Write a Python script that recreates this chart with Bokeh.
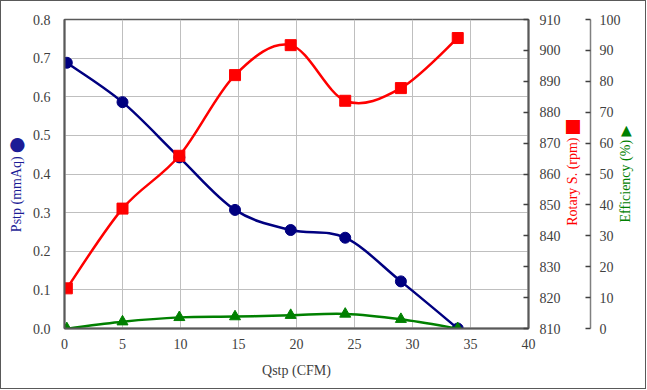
import numpy as np
from bokeh.plotting import figure
from bokeh.models import Range1d, LinearAxis, FixedTicker, NumeralTickFormatter
from bokeh.embed import file_html
from bokeh.resources import INLINE

# ---- data ----
qstp = [0.2, 5.0, 9.9, 14.7, 19.5, 24.2, 29.0, 33.9]          # Qstp (CFM)
pstp = [0.688, 0.586, 0.443, 0.307, 0.255, 0.235, 0.122, 0.0]  # Pstp (mmAq)
rpm = [823.0, 848.8, 865.9, 892.0, 901.7, 883.7, 887.8, 904.0]  # Rotary S. (rpm)
eff = [0.0, 2.2, 3.6, 3.85, 4.3, 4.7, 3.0, 0.0]                 # Efficiency (%)

x_ticks = [0, 5, 10, 15, 20, 25, 30, 35, 40]
p_ticks = [0.0, 0.1, 0.2, 0.3, 0.4, 0.5, 0.6, 0.7, 0.8]
rpm_ticks = [810, 820, 830, 840, 850, 860, 870, 880, 890, 900, 910]
eff_ticks = [0, 10, 20, 30, 40, 50, 60, 70, 80, 90, 100]

x_title = "Qstp (CFM)"
p_title = "Pstp (mmAq) \u2b24" + "\u00a0" * 6
rpm_title = "Rotary S. (rpm) \u2b1b\ufe0e"
eff_title = "Efficiency (%) \u25b6"

NAVY = "#000080"
RED = "#ff0000"
GREEN = "#008000"
GRAY = "#404040"
FONT = "Liberation Serif"
TITLE_FONT = "Liberation Serif, DejaVu Sans"


def smooth_segments(xs, ys):
    """Excel-like smoothed line: cubic Bezier per segment (Catmull-Rom, 1/6 tension)."""
    n = len(xs)
    out = dict(x0=[], y0=[], x1=[], y1=[], cx0=[], cy0=[], cx1=[], cy1=[])
    for i in range(n - 1):
        im = max(i - 1, 0)
        ip = min(i + 2, n - 1)
        out["x0"].append(xs[i]); out["y0"].append(ys[i])
        out["x1"].append(xs[i + 1]); out["y1"].append(ys[i + 1])
        out["cx0"].append(xs[i] + (xs[i + 1] - xs[im]) / 6.0)
        out["cy0"].append(ys[i] + (ys[i + 1] - ys[im]) / 6.0)
        out["cx1"].append(xs[i + 1] - (xs[ip] - xs[i]) / 6.0)
        out["cy1"].append(ys[i + 1] - (ys[ip] - ys[i]) / 6.0)
    return out


p = figure(frame_width=464, frame_height=309,
           min_border_left=63, min_border_right=117, min_border_top=18, min_border_bottom=60,
           x_range=Range1d(0, 40), y_range=Range1d(0, 0.8),
           output_backend="svg", toolbar_location=None)
p.extra_y_ranges = {"rpm": Range1d(810, 910), "eff": Range1d(0, 100)}
p.styles = {"border": "1px solid #595959"}

p.background_fill_color = "white"
p.border_fill_color = "white"
p.outline_line_color = "#595959"
p.outline_line_width = 1.5

# grids
p.xgrid.ticker = FixedTicker(ticks=x_ticks)
p.ygrid.ticker = FixedTicker(ticks=p_ticks)
p.xgrid.grid_line_color = "#bfbfbf"
p.ygrid.grid_line_color = "#bfbfbf"
p.xgrid.grid_line_width = 1
p.ygrid.grid_line_width = 1


def style_axis(ax):
    ax.axis_line_color = "#595959"
    ax.axis_line_width = 2
    ax.major_tick_line_color = "#404040"
    ax.major_tick_line_width = 1.5
    ax.minor_tick_line_color = None
    ax.major_label_text_font = FONT
    ax.major_label_text_font_size = "14px"
    ax.major_label_text_font_style = "normal"
    ax.major_label_text_color = GRAY
    ax.axis_label_text_font = FONT
    ax.axis_label_text_font_size = "14px"
    ax.axis_label_text_font_style = "normal"
    ax.axis_label_text_color = GRAY


def title_axis(tick, text, color, standoff):
    """A right-side axis that carries only a rotated title (bottom-to-top)."""
    ax = LinearAxis(ticker=FixedTicker(ticks=[tick]), major_label_overrides={tick: text})
    style_axis(ax)
    ax.axis_line_color = None
    ax.major_tick_line_color = None
    ax.major_tick_in = 0
    ax.major_tick_out = 0
    ax.major_label_standoff = standoff
    ax.major_label_text_color = color
    ax.major_label_text_font = TITLE_FONT
    ax.major_label_orientation = np.pi / 2
    return ax


# bottom axis
xa = p.xaxis[0]
xa.ticker = FixedTicker(ticks=x_ticks)
style_axis(xa)
xa.major_tick_in = 0
xa.major_tick_out = 0
xa.major_label_standoff = 10
xa.axis_label = x_title
xa.axis_label_standoff = 11

# left axis
ya = p.yaxis[0]
ya.ticker = FixedTicker(ticks=p_ticks)
ya.formatter = NumeralTickFormatter(format="0.0")
style_axis(ya)
ya.major_tick_in = 0
ya.major_tick_out = 0
ya.major_label_standoff = 14
ya.axis_label = p_title
ya.axis_label_text_color = "#1c1c96"
ya.axis_label_standoff = 6

# rpm axis (right, next to frame)
ra = LinearAxis(y_range_name="rpm", ticker=FixedTicker(ticks=rpm_ticks))
style_axis(ra)
ra.major_tick_in = 5
ra.major_tick_out = 0
ra.major_label_standoff = 11
p.add_layout(ra, "right")

p.add_layout(title_axis(0.266, rpm_title, RED, 9), "right")

# efficiency axis (outer right)
ea = LinearAxis(y_range_name="eff", ticker=FixedTicker(ticks=eff_ticks))
style_axis(ea)
ea.axis_line_color = "#808080"
ea.axis_line_width = 1.5
ea.major_tick_in = 5
ea.major_tick_out = 0
ea.major_label_standoff = 9
p.add_layout(ea, "right")

p.add_layout(title_axis(0.2745, eff_title, GREEN, 2), "right")

# series: Pstp
s = smooth_segments(qstp, pstp)
p.bezier(x0=s["x0"], y0=s["y0"], x1=s["x1"], y1=s["y1"], cx0=s["cx0"], cy0=s["cy0"],
         cx1=s["cx1"], cy1=s["cy1"], line_color=NAVY, line_width=2.5)
p.scatter(qstp, pstp, marker="circle", size=11, fill_color=NAVY, line_color=NAVY)

# series: rotary speed
s = smooth_segments(qstp, rpm)
p.bezier(x0=s["x0"], y0=s["y0"], x1=s["x1"], y1=s["y1"], cx0=s["cx0"], cy0=s["cy0"],
         cx1=s["cx1"], cy1=s["cy1"], line_color=RED, line_width=2.5, y_range_name="rpm")
p.scatter(qstp, rpm, marker="square", size=11, fill_color=RED, line_color=RED, y_range_name="rpm")

# series: efficiency
s = smooth_segments(qstp, eff)
p.bezier(x0=s["x0"], y0=s["y0"], x1=s["x1"], y1=s["y1"], cx0=s["cx0"], cy0=s["cy0"],
         cx1=s["cx1"], cy1=s["cy1"], line_color=GREEN, line_width=2.5, y_range_name="eff")
p.scatter(qstp, eff, marker="triangle", size=11, fill_color=GREEN, line_color=GREEN, y_range_name="eff")

open("out.html", "w").write(file_html(p, INLINE))
